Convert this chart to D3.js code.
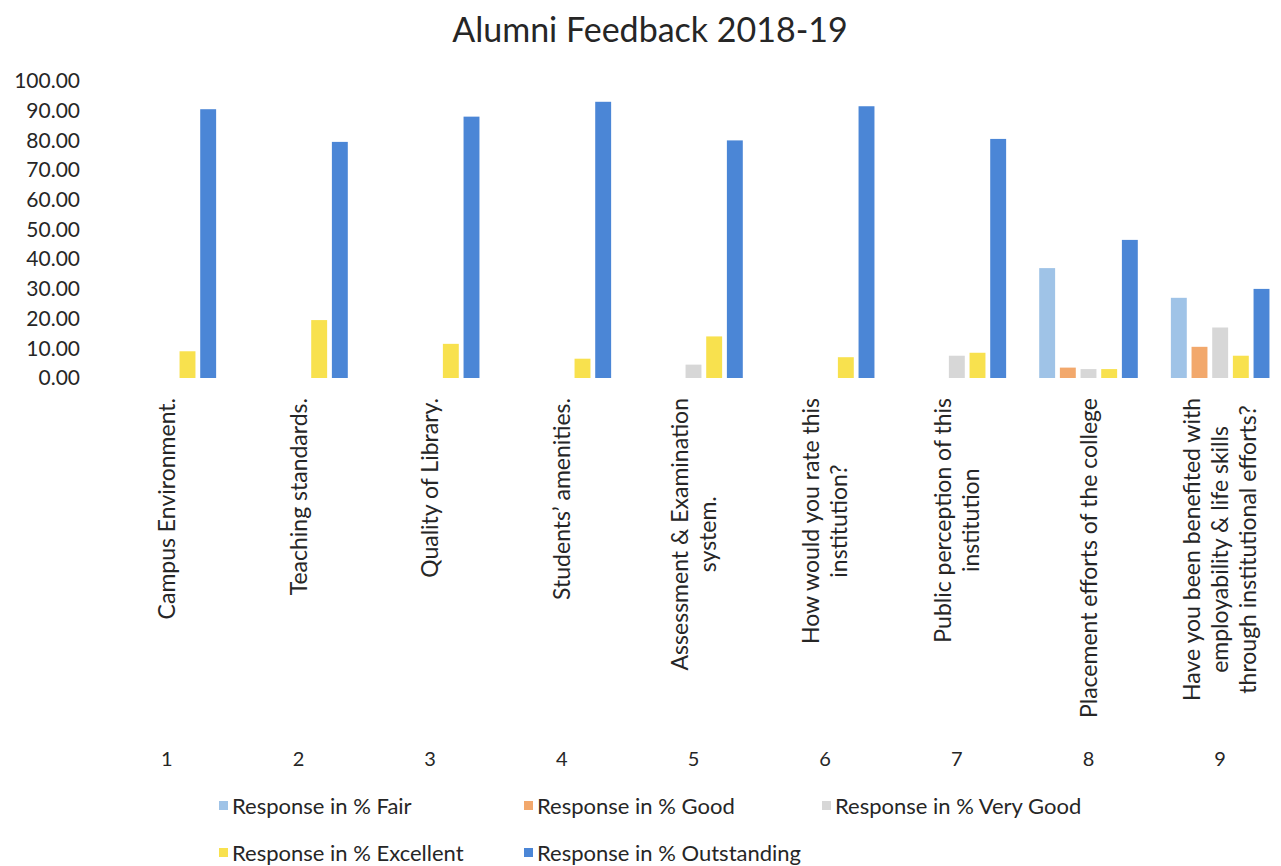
<!DOCTYPE html>
<html>
<head>
<meta charset="utf-8">
<script src="https://cdn.jsdelivr.net/npm/d3@7"></script>
<style>
  body { margin: 0; background: #fff; }
  svg text { font-family: Lato, "Open Sans", sans-serif; fill: #262626; }
</style>
</head>
<body>
<svg id="chart" width="1281" height="866"></svg>
<script>
'use strict';

const categories = ['1', '2', '3', '4', '5', '6', '7', '8', '9'];

// question text under each group, one entry per line
const questions = [
    ['Campus Environment.'],
    ['Teaching standards.'],
    ['Quality of Library.'],
    ['Students\u2019 amenities.'],
    ['Assessment & Examination', 'system.'],
    ['How would you rate this', 'institution?'],
    ['Public perception of this', 'institution'],
    ['Placement efforts of the college'],
    ['Have you been benefited with', 'employability & life skills', 'through institutional efforts?']
];

const seriesNames = [
    'Response in % Fair',
    'Response in % Good',
    'Response in % Very Good',
    'Response in % Excellent',
    'Response in % Outstanding'
];

const fair        = [0, 0, 0, 0, 0, 0, 0, 37.0, 27.0];
const good        = [0, 0, 0, 0, 0, 0, 0, 3.5, 10.5];
const veryGood    = [0, 0, 0, 0, 4.5, 0, 7.5, 3.0, 17.0];
const excellent   = [9.0, 19.5, 11.5, 6.5, 14.0, 7.0, 8.5, 3.0, 7.5];
const outstanding = [90.5, 79.5, 88.0, 93.0, 80.0, 91.5, 80.5, 46.5, 30.0];

const yTicks = [0, 10, 20, 30, 40, 50, 60, 70, 80, 90, 100];

const colors = ['#9fc3e7', '#f2a86c', '#d7d7d7', '#f8e14e', '#4b86d6'];

const svg = d3.select('#chart');

const plotTop = 81;
const plotBottom = 378;
const plotLeft = 101;
const plotRight = 1286;

const values = [fair, good, veryGood, excellent, outstanding];

const x0 = d3.scaleBand().domain(categories).range([plotLeft, plotRight]);
const x1 = d3.scaleBand().domain(seriesNames)
    .range([0, x0.bandwidth()])
    .paddingInner(0.23)
    .paddingOuter(0.8);
const y = d3.scaleLinear().domain([0, 100]).range([plotBottom, plotTop]);

// title
svg.append('text')
    .attr('x', 650)
    .attr('y', 42)
    .attr('text-anchor', 'middle')
    .style('font-size', '34px')
    .text('Alumni Feedback 2018-19');

// y axis, labels only
const yAxis = d3.axisLeft(y)
    .tickValues(yTicks)
    .tickSize(0)
    .tickPadding(0)
    .tickFormat(d3.format('.2f'));

svg.append('g')
    .attr('class', 'axis axis--y')
    .attr('transform', 'translate(80,0)')
    .call(yAxis)
    .call(g => g.select('.domain').remove())
    .selectAll('text')
    .style('font-size', '21px')
    .style('font-family', 'Lato, sans-serif')
    .attr('fill', '#262626');

// bars
const groups = svg.append('g')
    .selectAll('g')
    .data(categories)
    .enter().append('g')
    .attr('transform', d => 'translate(' + x0(d) + ',0)');

groups.selectAll('rect')
    .data((d, i) => seriesNames.map((name, s) => ({name, value: values[s][i], color: colors[s]})))
    .enter().append('rect')
    .filter(d => d.value > 0)
    .attr('x', d => x1(d.name))
    .attr('width', x1.bandwidth())
    .attr('y', d => y(d.value))
    .attr('height', d => y(0) - y(d.value))
    .attr('fill', d => d.color);

// rotated question labels, block aligned to the top and centred on the group
const lineHeight = 28;
const labels = svg.append('g')
    .selectAll('g')
    .data(questions)
    .enter().append('g')
    .attr('transform', (d, i) => 'translate(' + (x0(categories[i]) + x0.bandwidth() / 2) + ',398) rotate(-90)');

labels.each(function (lines) {
    const g = d3.select(this);
    const texts = g.selectAll('text')
        .data(lines)
        .enter().append('text')
        .attr('text-anchor', 'middle')
        .attr('dy', '0.35em')
        .attr('y', (d, i) => (i - (lines.length - 1) / 2) * lineHeight)
        .style('font-size', '23px')
        .text(d => d);
    let longest = 0;
    texts.each(function () {
        longest = Math.max(longest, this.getComputedTextLength());
    });
    texts.attr('x', -longest / 2);
});

// group numbers
const xAxis = d3.axisBottom(x0).tickSize(0).tickPadding(0);

svg.append('g')
    .attr('class', 'axis axis--x')
    .attr('transform', 'translate(0,752)')
    .call(xAxis)
    .call(g => g.select('.domain').remove())
    .selectAll('text')
    .style('font-size', '20px')
    .style('font-family', 'Lato, sans-serif')
    .attr('fill', '#262626');

// legend
const legendPos = [[219, 806], [524, 806], [822, 806], [219, 853], [524, 853]];

const legend = svg.append('g')
    .selectAll('g')
    .data(seriesNames)
    .enter().append('g')
    .attr('transform', (d, i) => 'translate(' + legendPos[i][0] + ',' + legendPos[i][1] + ')');

legend.append('rect')
    .attr('x', 0)
    .attr('y', -5)
    .attr('width', 9)
    .attr('height', 9)
    .attr('fill', (d, i) => colors[i]);

legend.append('text')
    .attr('x', 13)
    .attr('dy', '0.35em')
    .style('font-size', '22px')
    .text(d => d);
</script>
</body>
</html>
